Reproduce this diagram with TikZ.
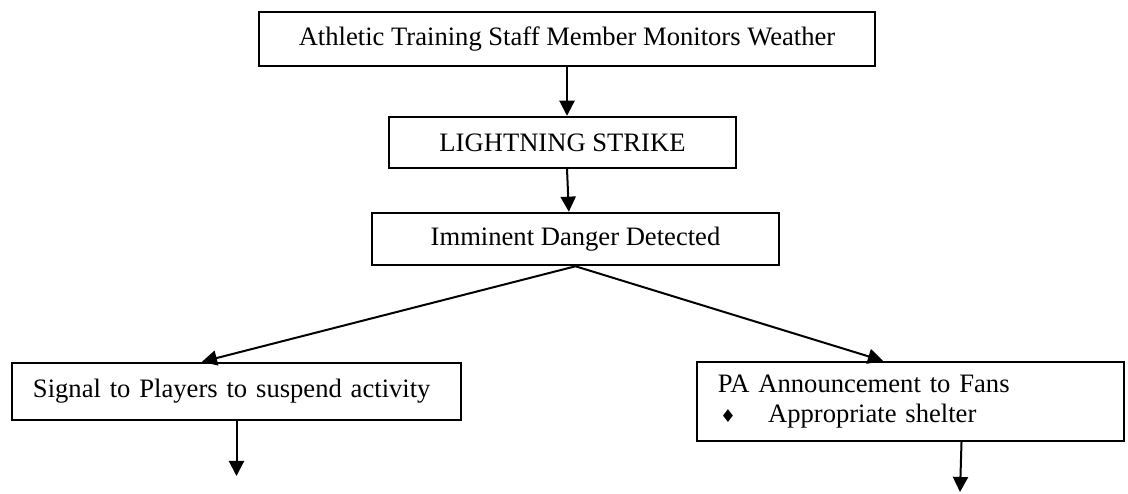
\documentclass[tikz,border=0pt]{standalone}
\usepackage{fontspec}
\setmainfont{Liberation Serif}
\newfontfamily\symfont{DejaVu Sans}
\usepackage{tikz}
\usetikzlibrary{arrows.meta}

\tikzset{
  box/.style={draw, line width=1.1pt, inner sep=0pt, font=\fontsize{12}{13.8}\selectfont},
  listbox/.style={box, align=left, inner xsep=9.5pt},
  flow/.style={line width=0.9pt, -{Triangle[length=6.8pt,width=6.8pt]}}
}

\begin{document}
\begin{tikzpicture}[x=0.4511pt, y=-0.4511pt]
	\useasboundingbox (0, 0) rectangle (1128, 493);
	\node [box, minimum width=277.9pt, minimum height=24.4pt] (watch) at (567, 39) {Athletic Training Staff Member Monitors Weather};
	\node [box, minimum width=156.5pt, minimum height=23pt] (strike) at (562.5, 142.5) {LIGHTNING STRIKE};
	\node [box, minimum width=183.6pt, minimum height=23.5pt] (danger) at (575.5, 239) {Imminent Danger Detected};
	\node [listbox, text width=183.6pt, minimum height=25.7pt] (players) at (236.5, 391.5) {Signal to Players to suspend activity};
	\node [listbox, text width=173.7pt, minimum height=35.6pt] (fans) at (910.5, 401.5) {PA Announcement to Fans\\\makebox[22.6pt][l]{\hspace{1pt}{\symfont\fontsize{8}{8}\selectfont ♦}}Appropriate shelter};
	\coordinate (playersend) at (236.5, 476);
	\coordinate (fansend) at (960, 492);

	\draw [flow] (watch.south) -- (watch.south |- strike.north);
	\draw [flow] (strike.south -| watch.south) -- ([xshift=-3pt]danger.north);
	\draw [flow] (danger.south) -- ([xshift=-15.6pt]players.north);
	\draw [flow] (danger.south) -- ([xshift=-12.4pt]fans.north);
	\draw [flow] (players.south) -- (playersend);
	\draw [flow] ([xshift=23pt]fans.south) -- (fansend);
\end{tikzpicture}
\end{document}
